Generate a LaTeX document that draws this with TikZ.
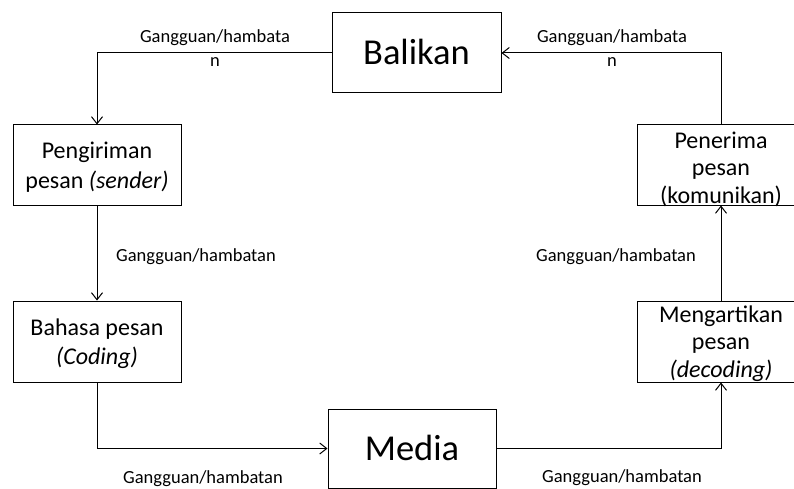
\documentclass[tikz,border=0pt]{standalone}
\usepackage{fontspec}
\setmainfont{Carlito}
\usetikzlibrary{arrows.meta}
% stacked, centred lines of a box; the first baseline sits #1 above the box centre
\newcommand\boxlines[2]{\raisebox{#1}[0pt][0pt]{\begin{tabular}[t]{@{}c@{}}#2\end{tabular}}}
\begin{document}
\begin{tikzpicture}[x=1pt,y=-1pt,
  box/.style={draw,line width=1pt,rectangle,inner sep=0pt,
    minimum width=168pt,minimum height=80pt,font=\fontsize{24}{29}\selectfont},
  tallbox/.style={box,font=\fontsize{24}{27.5}\selectfont},
  bigbox/.style={box,text height=23.5pt,text depth=0pt,font=\fontsize{36.5}{40}\selectfont},
  flow/.style={draw,line width=1pt,-{Straight Barb[length=7pt,width=11pt]}},
  noise/.style={inner sep=0pt,align=center,anchor=base,font=\fontsize{18.5}{24}\selectfont}]
\useasboundingbox (0,0) rectangle (794,489);

% stages of the communication cycle
\node[bigbox,minimum width=169pt] (balikan) at (416.5,53) {Balikan};
\node[box] (kirim) at (97,165) {\boxlines{6pt}{Pengiriman\\pesan \textit{(sender)}}};
\node[box,minimum height=81pt] (bahasa) at (97,341.5) {\boxlines{6.5pt}{Bahasa pesan\\\textit{(Coding)}}};
\node[bigbox,text depth=-4pt,minimum height=79pt] (media) at (412,448.5) {Media};
\node[tallbox,minimum height=81pt] (arti) at (721,341.5) {\boxlines{19.5pt}{Mengartikan\\pesan\\\textit{(decoding)}}};
\node[tallbox] (terima) at (721,165) {\boxlines{17pt}{Penerima\\pesan\\(komunikan)}};

% flow of the message
\draw[flow] (balikan.west) -| (kirim.north);
\draw[flow] (kirim.south) -- (bahasa.north);
\draw[flow] (bahasa.south) |- (media.west);
\draw[flow] (media.east) -| (arti.south);
\draw[flow] (arti.north) -- (terima.south);
\draw[flow] (terima.north) |- (balikan.east);

% noise labels (multi-line ones are placed by their last baseline)
\node[noise] (n1) at (215,67) {Gangguan/hambata\\n};
\node[noise] (n2) at (612,67) {Gangguan/hambata\\n};
\node[noise] (n3) at (196,261) {Gangguan/hambatan};
\node[noise] (n4) at (616,261) {Gangguan/hambatan};
\node[noise] (n5) at (203,483) {Gangguan/hambatan};
\node[noise] (n6) at (622,482) {Gangguan/hambatan};
\end{tikzpicture}
\end{document}
